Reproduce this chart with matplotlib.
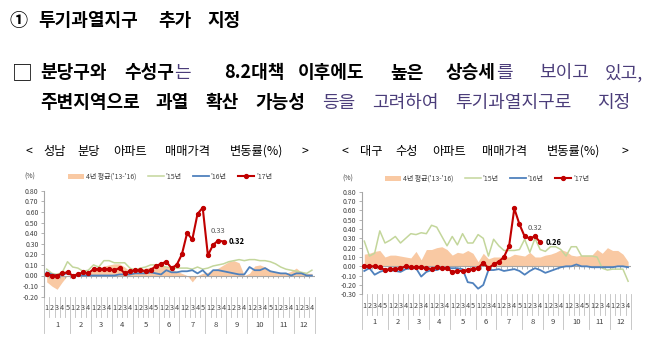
import matplotlib
matplotlib.use('Agg')
import matplotlib.pyplot as plt
import matplotlib.transforms as mtransforms
import numpy as np

plt.rcParams['font.family'] = ['Noto Sans CJK KR', 'DejaVu Sans']

# ---------------- data ----------------
weeks_per_month = [5, 4, 4, 4, 5, 4, 5, 4, 4, 5, 4, 4]
month_labels = [str(m) for m in range(1, 13)]
week_labels = [str(w + 1) for n in weeks_per_month for w in range(n)]
legend_labels = ["4년 평균('13-'16)", "'15년", "'16년", "'17년"]

bundang_avg = [-0.06, -0.10, -0.13, -0.06, 0.00, 0.01, 0.02, 0.03, 0.04, 0.05, 0.07, 0.09, 0.10,
               0.11, 0.11, 0.08, 0.04, 0.03, 0.06, 0.07, 0.08, 0.10, 0.09, 0.08, 0.06, 0.04,
               0.02, 0.00, -0.06, 0.00, 0.02, 0.03, 0.05, 0.07, 0.10, 0.13, 0.14, 0.12, 0.00,
               0.02, 0.09, 0.10, 0.08, 0.05, 0.03, 0.03, 0.02, 0.04, 0.07, 0.03, 0.02, 0.02]
bundang_15 = [0.06, 0.02, 0.01, 0.03, 0.13, 0.08, 0.07, 0.04, 0.05, 0.10, 0.08, 0.14, 0.14,
              0.12, 0.12, 0.12, 0.07, 0.05, 0.07, 0.08, 0.10, 0.10, 0.09, 0.08, 0.07, 0.07,
              0.07, 0.07, 0.06, 0.08, 0.06, 0.07, 0.09, 0.10, 0.11, 0.13, 0.14, 0.15, 0.14,
              0.15, 0.15, 0.14, 0.14, 0.13, 0.11, 0.08, 0.06, 0.05, 0.04, 0.03, 0.02, 0.05]
bundang_16 = [0.03, 0.01, 0.00, 0.01, 0.02, 0.00, 0.00, 0.00, 0.00, 0.00, 0.00, 0.00, 0.00,
              0.00, 0.01, 0.01, 0.01, 0.02, 0.02, 0.02, 0.03, 0.02, 0.01, 0.05, 0.03, 0.03,
              0.04, 0.04, 0.05, 0.02, 0.05, 0.00, 0.05, 0.05, 0.04, 0.03, 0.02, 0.01, 0.01,
              0.08, 0.05, 0.05, 0.07, 0.04, 0.03, 0.02, 0.02, 0.00, 0.02, 0.02, 0.00, 0.00]
bundang_17 = [0.01, 0.00, 0.00, 0.02, 0.03, 0.00, 0.01, 0.03, 0.02, 0.06, 0.06, 0.06, 0.06,
              0.05, 0.07, 0.02, 0.04, 0.05, 0.05, 0.04, 0.05, 0.09, 0.11, 0.13, 0.07, 0.10,
              0.20, 0.40, 0.34, 0.58, 0.64, 0.19, 0.29, 0.33, 0.32]

suseong_avg = [0.13, 0.14, 0.16, 0.17, 0.10, 0.12, 0.12, 0.11, 0.10, 0.09, 0.16, 0.07, 0.18,
               0.18, 0.20, 0.21, 0.18, 0.12, 0.15, 0.14, 0.17, 0.14, 0.05, 0.14, 0.08, 0.10,
               0.10, 0.10, 0.10, 0.13, 0.12, 0.11, 0.15, 0.10, 0.10, 0.12, 0.13, 0.15, 0.18,
               0.16, 0.12, 0.11, 0.12, 0.12, 0.12, 0.18, 0.14, 0.20, 0.17, 0.17, 0.13, 0.05]
suseong_15 = [0.27, 0.11, 0.14, 0.38, 0.25, 0.28, 0.32, 0.25, 0.30, 0.35, 0.34, 0.36, 0.35,
              0.44, 0.42, 0.32, 0.22, 0.32, 0.23, 0.35, 0.25, 0.25, 0.34, 0.30, 0.11, 0.29,
              0.22, 0.17, 0.17, 0.17, 0.18, 0.29, 0.15, 0.30, 0.18, 0.16, 0.21, 0.21, 0.18,
              0.11, 0.21, 0.21, 0.11, 0.11, 0.11, 0.10, -0.02, -0.04, -0.03, -0.03, -0.03, -0.16]
suseong_16 = [-0.05, -0.02, -0.09, -0.06, -0.04, -0.04, -0.05, -0.06, -0.03, -0.02, -0.02, -0.11,
              -0.06, -0.04, -0.04, -0.02, -0.02, -0.02, -0.02, -0.03, -0.17, -0.18, -0.24, -0.20,
              -0.04, -0.04, -0.03, -0.05, -0.04, -0.03, -0.05, -0.09, -0.05, -0.02, -0.04, -0.07,
              -0.05, -0.03, -0.01, 0.00, 0.00, 0.02, 0.00, 0.00, -0.01, -0.01, -0.01, -0.01,
              -0.01, 0.00, 0.00, -0.01]
suseong_17 = [0.00, 0.00, 0.00, -0.01, -0.04, -0.03, -0.03, -0.02, 0.00, -0.01, -0.01, -0.01,
              -0.02, -0.03, -0.01, -0.02, -0.02, -0.06, -0.05, -0.05, -0.04, -0.03, -0.02, 0.04,
              -0.02, 0.02, 0.05, 0.10, 0.22, 0.62, 0.45, 0.32, 0.30, 0.32, 0.26]

bundang_yticks = [0.8, 0.7, 0.6, 0.5, 0.4, 0.3, 0.2, 0.1, 0.0, -0.1, -0.2]
suseong_yticks = [0.8, 0.7, 0.6, 0.5, 0.4, 0.3, 0.2, 0.1, 0.0, -0.1, -0.2, -0.3]

# ---------------- figure ----------------
W, H = 660, 353
fig = plt.figure(figsize=(W / 100, H / 100), dpi=100)
fig.patch.set_facecolor('white')

def fx(px):
    return px / W

def fy(py):
    return 1 - py / H

PURPLE = '#4b3d7a'
renderer = fig.canvas.get_renderer()
BIG = 13

def seq_text(x, y, pieces, size):
    cur = x
    for s, weight, color in pieces:
        t = fig.text(fx(cur), fy(y), s, fontsize=size, fontweight=weight, color=color,
                     va='center', ha='left')
        bb = t.get_window_extent(renderer)
        cur = cur + bb.width

# Title
for s, x in [("①", 9), ("투기과열지구", 38), ("추가", 158), ("지정", 207)]:
    fig.text(fx(x), fy(20), s, fontsize=BIG, fontweight='bold', color='black',
             va='center', ha='left')

# Line 1
fig.text(fx(12), fy(73), "□", fontsize=15, color='black', va='center', ha='left')
seq_text(40, 73, [("분당구와", 'bold', 'black')], BIG)
seq_text(124, 73, [("수성구", 'bold', 'black'), ("는", 'normal', PURPLE)], BIG)
seq_text(224, 73, [("8.2대책", 'bold', 'black')], BIG)
seq_text(298, 73, [("이후에도", 'bold', 'black')], BIG)
seq_text(390, 73, [("높은", 'bold', 'black')], BIG)
seq_text(446, 73, [("상승세", 'bold', 'black'), ("를", 'normal', PURPLE)], BIG)
seq_text(539, 73, [("보이고", 'normal', PURPLE)], BIG)
seq_text(605, 73, [("있고,", 'normal', PURPLE)], BIG)

# Line 2
seq_text(40, 103, [("주변지역으로", 'bold', 'black')], BIG)
seq_text(155, 103, [("과열", 'bold', 'black')], BIG)
seq_text(205, 103, [("확산", 'bold', 'black')], BIG)
seq_text(255, 103, [("가능성", 'bold', 'black')], BIG)
seq_text(322, 103, [("등을", 'normal', PURPLE)], BIG)
seq_text(372, 103, [("고려하여", 'normal', PURPLE)], BIG)
seq_text(455, 103, [("투기과열지구로", 'normal', PURPLE)], BIG)
seq_text(597, 103, [("지정", 'normal', PURPLE)], BIG)

# Subtitles
SUB = 8.8
for s, x in [("<", 25), ("성남", 43), ("분당", 77), ("아파트", 113), ("매매가격", 165),
             ("변동률(%)", 230), (">", 302)]:
    fig.text(fx(x), fy(151), s, fontsize=SUB, color='black', va='center', ha='left')
for s, x in [("<", 342), ("대구", 360), ("수성", 395), ("아파트", 432), ("매매가격", 482),
             ("변동률(%)", 547), (">", 621)]:
    fig.text(fx(x), fy(151), s, fontsize=SUB, color='black', va='center', ha='left')

C_AVG = '#f9c9a3'
C_15 = '#c3d69b'
C_16 = '#4f81bd'
C_17 = '#c00000'
GRID = '#bfbfbf'
LBL = '#404040'


def draw_chart(left, right, top_px, bot_px, ylim, yticks, avg, s15, s16, s17,
               leg_center, leg_y, pct_x, week_y, month_y, week_line_end, month_line_end):
    ax = fig.add_axes([fx(left), fy(bot_px), fx(right - left), (bot_px - top_px) / H])
    ax.set_facecolor('none')
    n = len(week_labels)
    x = np.arange(n)
    ax.set_xlim(-0.5, n - 0.5)
    ax.set_ylim(*ylim)
    ax.fill_between(x, 0, avg, color=C_AVG, lw=0, zorder=1, label=legend_labels[0])
    l15, = ax.plot(x, s15, color=C_15, lw=1.1, zorder=3, label=legend_labels[1])
    l16, = ax.plot(x, s16, color=C_16, lw=1.3, zorder=4, label=legend_labels[2])
    l17, = ax.plot(np.arange(len(s17)), s17, color=C_17, lw=1.5, marker='o',
                   markersize=2.8, zorder=5, label=legend_labels[3])
    ax.axhline(0, color='#a6a6a6', lw=0.8, zorder=2)
    span = ylim[1] - ylim[0]
    ax.vlines(np.arange(-0.5, n), -span * 0.022, 0, color='#a6a6a6', lw=0.6, zorder=2)

    for sp in ['top', 'right', 'bottom']:
        ax.spines[sp].set_visible(False)
    ax.spines['left'].set_color('#a6a6a6')
    ax.spines['left'].set_linewidth(0.8)
    ax.set_yticks(yticks)
    ax.set_yticklabels(["%.2f" % v if abs(v) > 1e-9 else "0.00" for v in yticks])
    ax.tick_params(axis='y', length=2.5, width=0.6, color='#a6a6a6', labelsize=5,
                   labelcolor=LBL, pad=1.5)
    ax.set_xticks([])

    tr = mtransforms.blended_transform_factory(ax.transData, fig.transFigure)
    bounds = np.arange(-0.5, n)
    month_bounds = np.concatenate([[0], np.cumsum(weeks_per_month)]) - 0.5
    for b in bounds:
        end = month_line_end if b in month_bounds else week_line_end
        ax.plot([b, b], [fy(bot_px), fy(end)], transform=tr, color=GRID, lw=0.6,
                clip_on=False)
    for i, wl in enumerate(week_labels):
        ax.text(i, fy(week_y), wl, transform=tr, ha='center', va='center',
                fontsize=5.2, color=LBL)
    starts = np.concatenate([[0], np.cumsum(weeks_per_month)[:-1]])
    for st, nw, ml in zip(starts, weeks_per_month, month_labels):
        ax.text(st + (nw - 1) / 2, fy(month_y), ml, transform=tr, ha='center',
                va='center', fontsize=5.5, color=LBL)

    handles = [ax.collections[0], l15, l16, l17]
    ax.legend(handles, legend_labels, ncol=4, loc='center',
              bbox_to_anchor=(fx(leg_center), fy(leg_y)), bbox_transform=fig.transFigure,
              fontsize=5, frameon=False, handlelength=2.3, handleheight=0.8,
              columnspacing=1.6, handletextpad=0.3, labelcolor=LBL)
    fig.text(fx(pct_x), fy(leg_y), "(%)", fontsize=5, color=LBL, va='center', ha='left')
    return ax


ax1 = draw_chart(44.1, 314.5, 190.7, 296.7, (-0.2, 0.8), bundang_yticks,
                 bundang_avg, bundang_15, bundang_16, bundang_17,
                 leg_center=170, leg_y=177, pct_x=24,
                 week_y=308, month_y=325, week_line_end=317, month_line_end=333)
ax2 = draw_chart(361.7, 630.7, 191.7, 294.3, (-0.3, 0.8), suseong_yticks,
                 suseong_avg, suseong_15, suseong_16, suseong_17,
                 leg_center=487, leg_y=179, pct_x=342,
                 week_y=306, month_y=322, week_line_end=315, month_line_end=329)

# value annotations (from the '17 series)
for ax, s17 in [(ax1, bundang_17), (ax2, suseong_17)]:
    i_prev = len(s17) - 2
    i_last = len(s17) - 1
    ax.text(i_prev, s17[i_prev] + 0.09, "%.2f" % s17[i_prev], ha='center', va='center',
            fontsize=5.5, color='#595959')
    ax.text(i_last + 1.0, s17[i_last], "%.2f" % s17[i_last], ha='left', va='center',
            fontsize=5.5, fontweight='bold', color='black')

fig.savefig('out.png', dpi=100, facecolor='white')
